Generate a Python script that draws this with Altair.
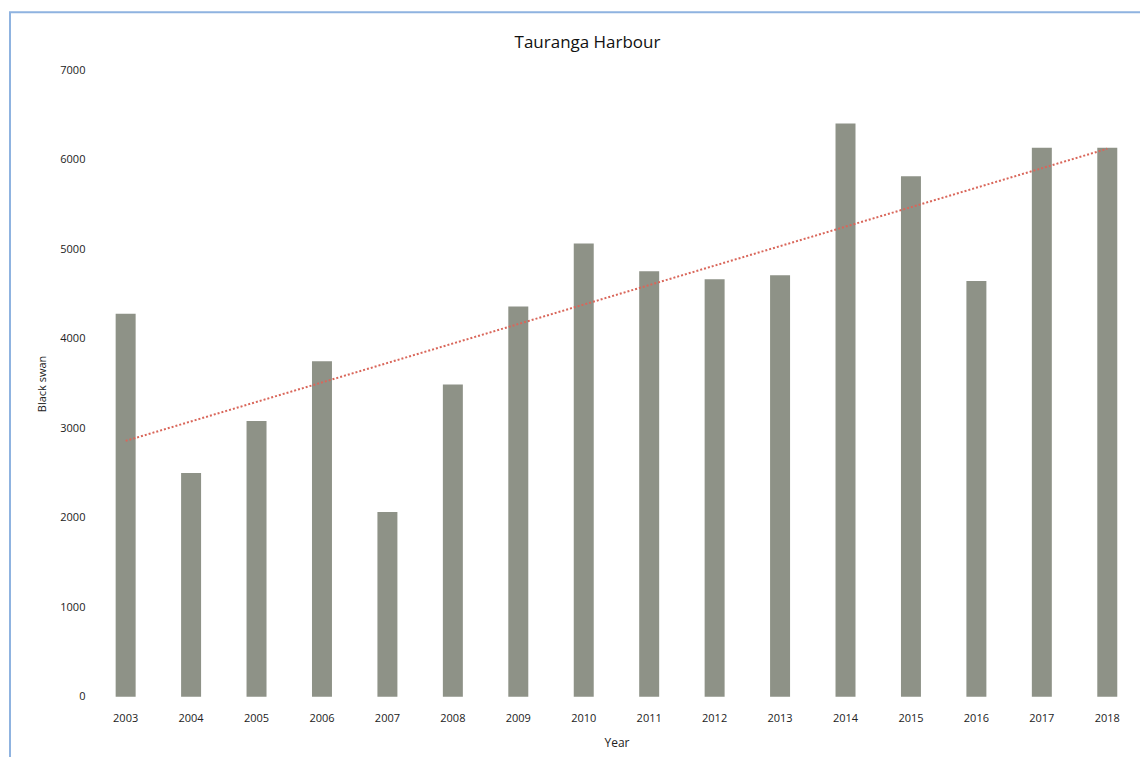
import altair as alt
import pandas as pd

years = [2003, 2004, 2005, 2006, 2007, 2008, 2009, 2010,
         2011, 2012, 2013, 2014, 2015, 2016, 2017, 2018]
swans = [4280, 2500, 3080, 3750, 2065, 3490, 4360, 5065,
         4755, 4665, 4710, 6405, 5815, 4645, 6135, 6135]
chart_title = "Tauranga Harbour"

df = pd.DataFrame({"year": years, "swans": swans})

W, H = 1048, 627
PL, PT = 85, 62

base = alt.Chart(df)

bars = base.mark_bar(color="#8e9287", width=20).encode(
    x=alt.X("year:O", title="Year",
            axis=alt.Axis(labelAngle=0, ticks=False, domain=False, grid=False,
                          labelPadding=16, labelFontSize=11, titleFontSize=12,
                          titleFontWeight="normal", titlePadding=14,
                          labelColor="#222", titleColor="#222")),
    y=alt.Y("swans:Q", title="Black swan",
            scale=alt.Scale(domain=[0, 7000]),
            axis=alt.Axis(values=list(range(0, 7001, 1000)), format="d", ticks=False,
                          domain=False, grid=False, labelPadding=8, labelFontSize=11,
                          titleFontSize=11, titleFontWeight="normal", titlePadding=12,
                          labelColor="#222", titleColor="#222")),
)

trend = base.transform_regression("year", "swans").mark_line(
    color="#d9665a", strokeDash=[2, 2], strokeWidth=2
).encode(x="year:O", y="swans:Q")

first = base.transform_filter("datum.year == 2003")

frame = first.mark_rect(fill=None, stroke="#8fb3e0", strokeWidth=2).encode(
    x=alt.value(-83), x2=alt.value(1062), y=alt.value(-58), y2=alt.value(690)
)

title = first.transform_calculate(t=f"'{chart_title}'").mark_text(
    fontSize=17, color="#111", font="Open Sans"
).encode(x=alt.value(W / 2 - 29), y=alt.value(-27), text="t:N")

chart = alt.layer(bars, trend, frame, title).properties(
    width=W, height=H,
    autosize=alt.AutoSizeParams(type="none"),
    padding={"left": PL, "top": PT, "right": 0, "bottom": 60},
).configure(font="Open Sans").configure_view(
    stroke="transparent", strokeWidth=0
).configure_axis(grid=False)

chart.save("out.html", embed_options={"renderer": "svg", "actions": False})
